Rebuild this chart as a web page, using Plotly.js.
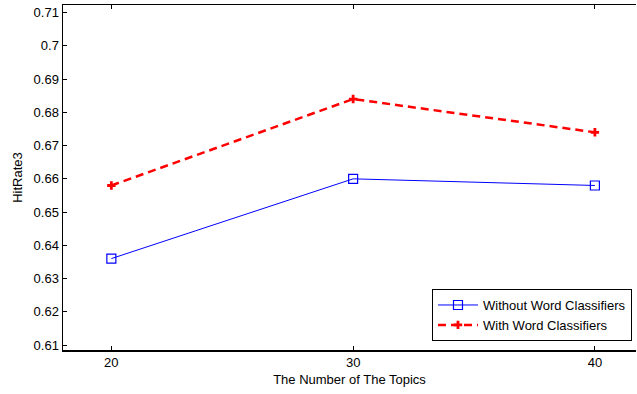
<!DOCTYPE html>
<html><head><meta charset="utf-8">
<script src="https://cdn.plot.ly/plotly-3.0.1.min.js"></script>
<style>html,body{margin:0;padding:0;background:#fff}#c{width:637px;height:394px}</style>
</head><body><div id="c"></div>
<script>
const topics = [20, 30, 40];
const withoutWC = [0.636, 0.660, 0.658];
const withWC = [0.658, 0.684, 0.674];
const yTickVals = [0.61,0.62,0.63,0.64,0.65,0.66,0.67,0.68,0.69,0.70,0.71];
const yTickText = ['0.61','0.62','0.63','0.64','0.65','0.66','0.67','0.68','0.69','0.7','0.71'];
const xTickVals = [20, 30, 40];
const xTickText = ['20', '30', '40'];

const font = {family: 'Liberation Sans, Arial, sans-serif', size: 13, color: '#000'};
const traces = [
  {x: topics, y: withoutWC, name: 'Without Word Classifiers', mode: 'lines+markers',
   line: {color: '#0000ff', width: 1}, marker: {symbol: 'square-open', size: 9, color: '#0000ff', line: {width: 1.2}}},
  {x: topics, y: withWC, name: 'With Word Classifiers', mode: 'lines+markers',
   line: {color: '#ff0000', width: 2.5, dash: '8px,5px'}, marker: {symbol: 'cross', size: 7, color: '#ff0000', line: {width: 0}}}
];
const layout = {
  width: 637, height: 394,
  margin: {l: 63, r: 1, t: 5, b: 44},
  paper_bgcolor: '#fff', plot_bgcolor: '#fff',
  font: font,
  showlegend: true,
  legend: {x: 0.993, y: 0.026, xanchor: 'right', yanchor: 'bottom', bgcolor: '#fff',
    bordercolor: '#000', borderwidth: 1, font: {family: font.family, size: 13, color: '#000'},
    tracegroupgap: 0, itemwidth: 40},
  xaxis: {range: [18, 41.7], tickvals: xTickVals, ticktext: xTickText, ticks: 'inside', ticklen: 4,
    tickcolor: '#000', showline: true, linecolor: '#000', linewidth: 1.5, mirror: 'ticks', showgrid: false,
    zeroline: false, tickfont: font,
    title: {text: 'The Number of The Topics', font: font, standoff: 6}},
  yaxis: {range: [0.6085, 0.7123], tickvals: yTickVals, ticktext: yTickText, ticks: 'inside', ticklen: 4,
    tickcolor: '#000', showline: true, linecolor: '#000', linewidth: 1.5, showgrid: false,
    zeroline: false, tickfont: font,
    title: {text: 'HitRate3', font: font, standoff: 8}}
};
Plotly.newPlot('c', traces, layout, {staticPlot: true, displayModeBar: false});
</script></body></html>
